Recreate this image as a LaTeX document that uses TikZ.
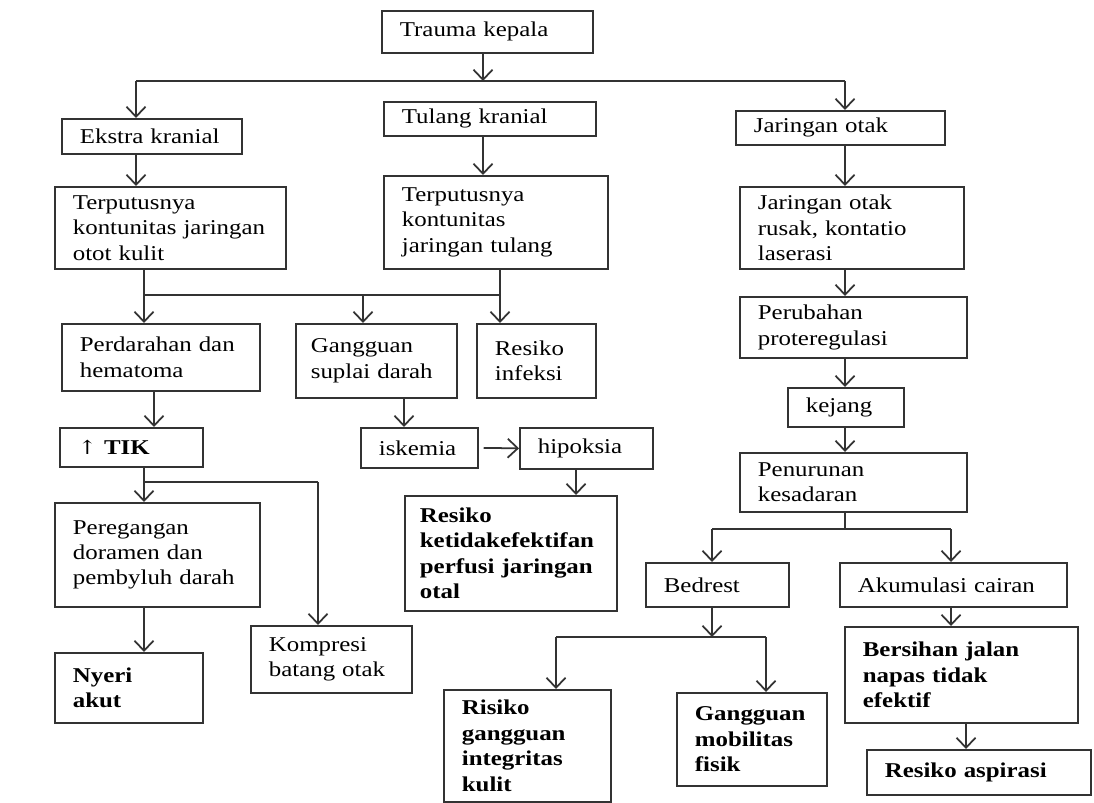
\documentclass[tikz,border=0pt]{standalone}
\usepackage{fontspec}
\setmainfont{Liberation Serif}[FakeStretch=1.18]
\newfontfamily\simbol{DejaVu Serif}[FakeStretch=1.18]
\usepackage{tikz}
\usetikzlibrary{arrows.meta,positioning}
\tikzset{
  kotak/.style={ draw=black!80, line width=1pt, anchor=north west, align=left,
    inner xsep=0.36cm, inner ysep=0pt, font=\fontsize{12}{14.5}\selectfont }
}
\tikzset{
  tebal/.style={ kotak, font=\fontsize{12}{14.5}\selectfont\bfseries }
}
\tikzset{
  garis/.style={ draw=black!80, line width=1pt }
}
\tikzset{
  panah/.style={ garis, -{Straight Barb[length=2mm, width=3.8mm, line width=1pt]} }
}

\begin{document}
\begin{tikzpicture}[x=0.02cm, y=-0.02cm]
      \useasboundingbox (0,0) rectangle (1094,803);
      % baris atas
      \node[kotak, text width=3.50cm, minimum height=0.84cm] (trauma) at (381,10) {Trauma kepala};
      \node[kotak, text width=2.88cm, minimum height=0.70cm] (ekstra) at (61,118) {Ekstra kranial};
      \node[kotak, text width=3.52cm, minimum height=0.68cm] (tulang) at (383,101) {Tulang kranial};
      \node[kotak, text width=3.46cm, minimum height=0.68cm] (jarotak) at (735,110) {Jaringan otak};
      \node[kotak, text width=3.90cm, minimum height=1.64cm] (putus1) at (54,186) {Terputusnya\\kontunitas jaringan\\otot kulit};
      \node[kotak, text width=3.76cm, minimum height=1.86cm] (putus2) at (383,175) {Terputusnya\\kontunitas\\jaringan tulang};
      \node[kotak, text width=3.76cm, minimum height=1.64cm] (rusak) at (739,186) {Jaringan otak\\rusak, kontatio\\laserasi};
      % baris tengah
      \node[kotak, text width=3.24cm, minimum height=1.34cm] (perdarahan) at (61,323) {Perdarahan dan\\hematoma};
      \node[kotak, text width=2.62cm, minimum height=1.48cm, inner xsep=0.3cm] (gangguan) at (295,323) {Gangguan\\suplai darah};
      \node[kotak, text width=1.66cm, minimum height=1.48cm] (infeksi) at (476,323) {Resiko\\infeksi};
      \node[kotak, text width=3.82cm, minimum height=1.22cm] (perubahan) at (739,296) {Perubahan\\proteregulasi};
      \node[kotak, text width=2.14cm, minimum height=0.78cm] (tik) at (59,427) {{\simbol\fontsize{11}{14.5}\selectfont ↑} \textbf{TIK}};
      \node[kotak, text width=1.62cm, minimum height=0.80cm] (iskemia) at (360,427) {iskemia};
      \node[kotak, text width=1.94cm, minimum height=0.82cm] (hipoksia) at (519,427) {hipoksia};
      \node[kotak, text width=1.60cm, minimum height=0.78cm] (kejang) at (787,387) {kejang};
      \node[kotak, text width=3.82cm, minimum height=1.18cm] (penurunan) at (739,452) {Penurunan\\kesadaran};
      % baris bawah
      \node[kotak, text width=3.38cm, minimum height=2.08cm] (peregangan) at (54,502) {Peregangan\\doramen dan\\pembyluh darah};
      \node[tebal, text width=3.64cm, minimum height=2.30cm, inner xsep=0.3cm] (perfusi) at (404,495) {Resiko\\ketidakefektifan\\perfusi jaringan\\otal};
      \node[kotak, text width=2.14cm, minimum height=0.88cm] (bedrest) at (645,562) {Bedrest};
      \node[kotak, text width=3.82cm, minimum height=0.88cm] (akumulasi) at (839,562) {Akumulasi cairan};
      \node[kotak, text width=2.50cm, minimum height=1.34cm] (kompresi) at (250,625) {Kompresi\\batang otak};
      \node[tebal, text width=2.24cm, minimum height=1.40cm] (nyeri) at (54,652) {Nyeri\\akut};
      \node[tebal, text width=2.62cm, minimum height=2.24cm] (integritas) at (443,689) {Risiko\\gangguan\\integritas\\kulit};
      \node[tebal, text width=2.28cm, minimum height=1.86cm] (mobilitas) at (676,692) {Gangguan\\mobilitas\\fisik};
      \node[tebal, text width=3.94cm, minimum height=1.92cm] (bersihan) at (844,626) {Bersihan jalan\\napas tidak\\efektif};
      \node[tebal, text width=3.76cm, minimum height=0.90cm] (aspirasi) at (866,749) {Resiko aspirasi};
      % titik belok
      \coordinate (b0) at (483,81);
      \coordinate (bL) at (136,81);
      \coordinate (bR) at (845,81);
      \coordinate (m1) at (144,295);
      \coordinate (m2) at (363,295);
      \coordinate (m3) at (500,295);
      \coordinate (t1) at (154,410);
      \coordinate (g1) at (404,410);
      \coordinate (h1) at (576,480);
      \coordinate (j1) at (144,482);
      \coordinate (j2) at (318,482);
      \coordinate (p1) at (845,529);
      \coordinate (pL) at (712,529);
      \coordinate (pR) at (951,529);
      \coordinate (q0) at (712,637);
      \coordinate (q1) at (556,637);
      \coordinate (q2) at (766,637);
      \coordinate (r1) at (966,735);
      % panah
      \draw[panah] (trauma.south -| b0) -- (b0);
      \draw[garis] (bL) -- (bR);
      \draw[panah] (bL) -- (ekstra.north -| bL);
      \draw[panah] (bR) -- (jarotak.north -| bR);
      \draw[panah] (ekstra.south -| bL) -- (putus1.north -| bL);
      \draw[panah] (tulang.south -| b0) -- (putus2.north -| b0);
      \draw[panah] (jarotak.south -| bR) -- (rusak.north -| bR);
      \draw[panah] (rusak.south -| bR) -- (perubahan.north -| bR);
      \draw[panah] (perubahan.south -| bR) -- (kejang.north -| bR);
      \draw[panah] (kejang.south -| bR) -- (penurunan.north -| bR);
      \draw[garis] (putus1.south -| m1) -- (m1) -- (m3) -- (putus2.south -| m3);
      \draw[panah] (m1) -- (perdarahan.north -| m1);
      \draw[panah] (m2) -- (gangguan.north -| m2);
      \draw[panah] (m3) -- (infeksi.north -| m3);
      \draw[panah] (perdarahan.south -| t1) -- (tik.north -| t1);
      \draw[panah] (gangguan.south -| g1) -- (iskemia.north -| g1);
      \draw[panah] ([xshift=0.1cm]iskemia.east) -- (hipoksia.west);
      \draw[panah] (hipoksia.south -| h1) -- (perfusi.north -| h1);
      \draw[garis] (tik.south -| j1) -- (j1) -- (j2);
      \draw[panah] (j1) -- (peregangan.north -| j1);
      \draw[panah] (j2) -- (kompresi.north -| j2);
      \draw[panah] (peregangan.south -| j1) -- (nyeri.north -| j1);
      \draw[garis] (penurunan.south -| p1) -- (p1);
      \draw[garis] (pL) -- (pR);
      \draw[panah] (pL) -- (bedrest.north -| pL);
      \draw[panah] (pR) -- (akumulasi.north -| pR);
      \draw[panah] (bedrest.south -| q0) -- (q0);
      \draw[garis] (q1) -- (q2);
      \draw[panah] (q1) -- (integritas.north -| q1);
      \draw[panah] (q2) -- (mobilitas.north -| q2);
      \draw[panah] (akumulasi.south -| pR) -- (bersihan.north -| pR);
      \draw[panah] (bersihan.south -| r1) -- (aspirasi.north -| r1);
    \end{tikzpicture}
\end{document}
